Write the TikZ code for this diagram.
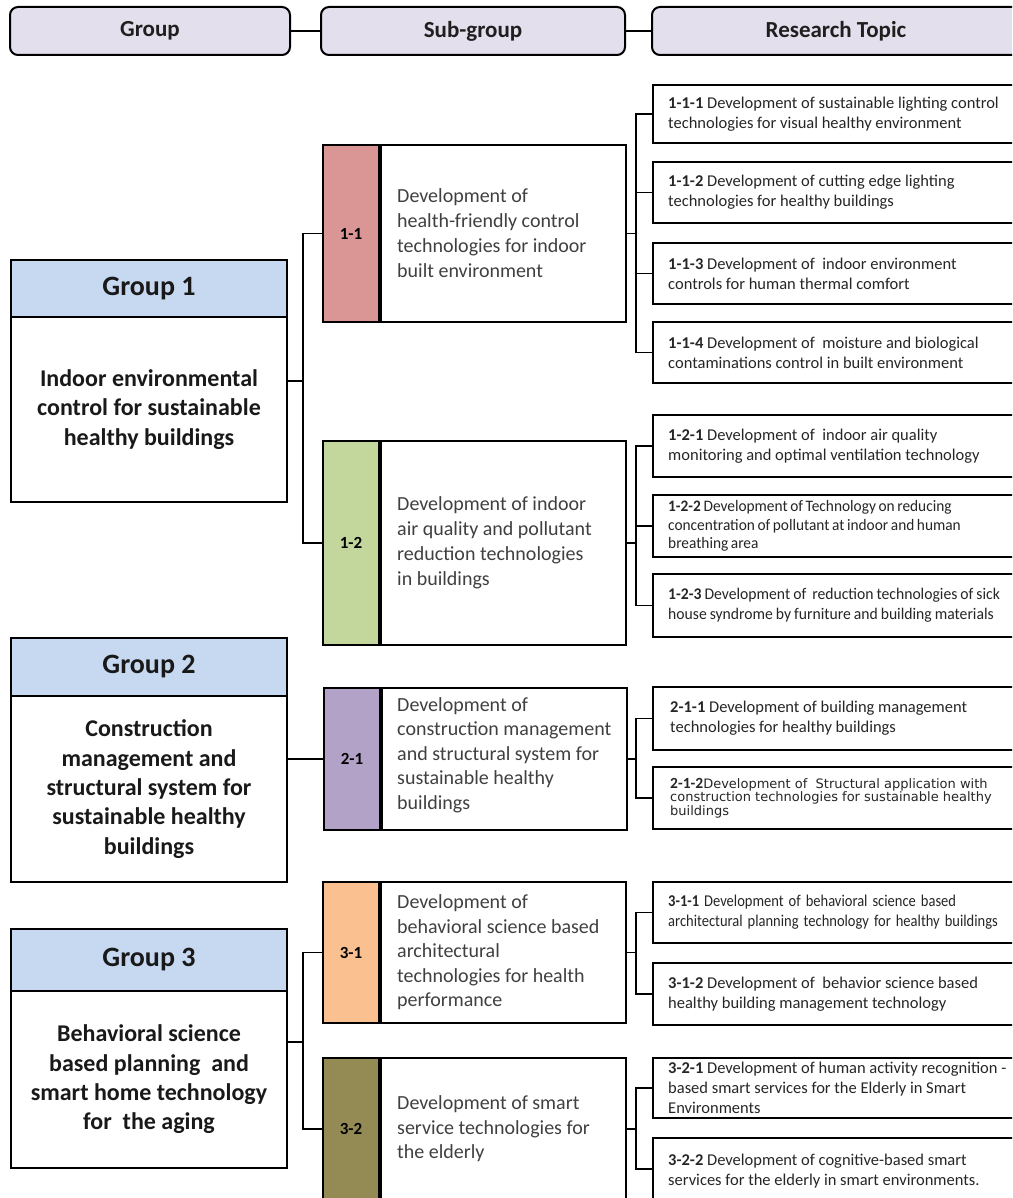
\documentclass[tikz,border=0pt]{standalone}
\usepackage{fontspec}
\setmainfont{Carlito}
\newfontfamily\condfont[FakeStretch=0.88]{Carlito}
\newfontfamily\tightfont[FakeStretch=0.96]{Carlito}
\newfontfamily\dvfont{DejaVu Sans}
\usetikzlibrary{calc}
\definecolor{hdrfill}{HTML}{E4DFEC}
\definecolor{gblue}{HTML}{C6D9F1}
\definecolor{cA}{HTML}{D99694}
\definecolor{cB}{HTML}{C3D69B}
\definecolor{cC}{HTML}{B3A2C7}
\definecolor{cD}{HTML}{FAC090}
\definecolor{cE}{HTML}{948A54}
\definecolor{subgray}{HTML}{404040}
\definecolor{topgray}{HTML}{262626}
\begin{document}
\begin{tikzpicture}[x=1pt,y=-1pt,
 hdr/.style={draw=black, line width=2pt, rounded corners=8pt, fill=hdrfill, minimum height=48pt, inner sep=0pt, font=\fontsize{23}{28}\selectfont\bfseries, text=black!88},
 ghead/.style={draw, line width=2.5pt, fill=gblue, minimum width=276pt, inner sep=0pt, font=\fontsize{28}{33}\selectfont\bfseries, text=black!90},
 gbody/.style={draw, line width=2.5pt, fill=white, minimum width=276pt, inner sep=0pt, align=center, font=\fontsize{24}{29.3}\selectfont\bfseries, text=black!90},
 tabbox/.style={draw, line width=2pt, minimum width=56pt, inner sep=0pt, font=\fontsize{17}{20}\selectfont\bfseries},
 sbox/.style={draw, line width=2pt, fill=white, minimum width=245pt, inner sep=0pt, anchor=west},
 stext/.style={anchor=west, inner sep=0pt, align=left, text=subgray, font=\fontsize{20}{25}\selectfont},
 tbox/.style={draw, line width=2pt, fill=white, minimum width=368pt, inner sep=0pt, anchor=west},
 ttext/.style={anchor=west, inner sep=0pt, align=left, text=topgray, font=\fontsize{16.5}{20}\selectfont},
 link/.style={line width=1.6pt}
]
\useasboundingbox (0,0) rectangle (1012,1198);
\clip (0,0) rectangle (1012,1198);
\fill[white] (0,0) rectangle (1012,1198);

% header row
\node[hdr, minimum width=280pt] (hG) at (150,31) {Group};
\node[hdr, minimum width=304pt] (hS) at (473,31) {Sub-group};
\node[hdr, minimum width=368pt] (hR) at (836,31) {Research Topic};
\draw[line width=2pt] (hG.east) -- (hS.west);
\draw[line width=2pt] (hS.east) -- (hR.west);

% groups
\node[ghead, minimum height=57pt] (g1h) at (149,288.5) {Group 1};
\node[gbody, minimum height=185pt] (g1b) at (149,409.5) {Indoor environmental\\control for sustainable\\healthy buildings};
\node[ghead, minimum height=58pt] (g2h) at (149,667) {Group 2};
\node[gbody, minimum height=186pt] (g2b) at (149,789) {Construction\\management and\\structural system for\\sustainable healthy\\buildings};
\node[ghead, minimum height=62pt] (g3h) at (149,960) {Group 3};
\node[gbody, minimum height=177pt] (g3b) at (149,1079.5) {Behavioral science\\based planning\ \ and\\smart home technology\\for\ \ the aging};

% sub-groups
\node[tabbox, fill=cA, minimum height=177pt] (t11) at (351,233.5) {1-1};
\node[sbox, minimum height=177pt] (s11) at (t11.east) {};
\node[stext] (x11) at ([xshift=17pt]s11.west) {Development of\\health-friendly control\\technologies for indoor\\built environment};

\node[tabbox, fill=cB, minimum height=204pt] (t12) at (351,543) {1-2};
\node[sbox, minimum height=204pt] (s12) at (t12.east) {};
\node[stext] (x12) at ([xshift=17pt]s12.west) {Development of indoor\\air quality and pollutant\\reduction technologies\\in buildings};

\node[tabbox, fill=cC, minimum height=142pt] (t21) at (352,759) {2-1};
\node[sbox, minimum height=142pt] (s21) at (t21.east) {};
\node[stext, font=\fontsize{20}{24.5}\selectfont] (x21) at ([xshift=16pt,yshift=4pt]s21.west) {Development of\\construction management\\and structural system for\\sustainable healthy\\buildings};

\node[tabbox, fill=cD, minimum height=141pt] (t31) at (351,952.5) {3-1};
\node[sbox, minimum height=141pt] (s31) at (t31.east) {};
\node[stext, font=\fontsize{20}{24.5}\selectfont] (x31) at ([xshift=17pt]s31.west) {Development of\\behavioral science based\\architectural\\technologies for health\\performance};

\node[tabbox, fill=cE, minimum height=142pt] (t32) at (351,1129) {3-2};
\node[sbox, minimum height=142pt] (s32) at (t32.east) {};
\node[stext, font=\fontsize{20}{24.5}\selectfont] (x32) at ([xshift=17pt]s32.west) {Development of smart\\service technologies for\\the elderly};

% research topics
\node[tbox, minimum height=58pt] (p111) at (652,114) {};
\node[ttext] (q111) at ([xshift=16pt]p111.west) {\textbf{1-1-1} Development of sustainable lighting control\\technologies for visual healthy environment};
\node[tbox, minimum height=61pt] (p112) at (652,192.5) {};
\node[ttext] (q112) at ([xshift=16pt]p112.west) {\textbf{1-1-2} Development of cutting edge lighting\\technologies for healthy buildings};
\node[tbox, minimum height=61pt] (p113) at (652,273.5) {};
\node[ttext] (q113) at ([xshift=16pt]p113.west) {\textbf{1-1-3} Development of\ \ indoor environment\\controls for human thermal comfort};
\node[tbox, minimum height=61pt] (p114) at (652,352.5) {};
\node[ttext] (q114) at ([xshift=16pt]p114.west) {\textbf{1-1-4} Development of\ \ moisture and biological\\contaminations control in built environment};

\node[tbox, minimum height=62pt] (p121) at (652,446) {};
\node[ttext] (q121) at ([xshift=16pt]p121.west) {\textbf{1-2-1} Development of\ \ indoor air quality\\monitoring and optimal ventilation technology};
\node[tbox, minimum height=62pt] (p122) at (652,526) {};
\node[ttext, font={\tightfont\fontsize{16}{18.5}\selectfont\spaceskip=2.6pt plus 0.5pt}] (q122) at ([xshift=16pt]p122.west) {\textbf{1-2-2} Development of Technology on reducing\\concentration of pollutant at indoor and human\\breathing area};
\node[tbox, minimum height=63pt] (p123) at (652,605.5) {};
\node[ttext, font={\tightfont\fontsize{16.3}{20}\selectfont\spaceskip=3pt plus 0.5pt}] (q123) at ([xshift=16pt]p123.west) {\textbf{1-2-3} Development of\ \ reduction technologies of sick\\house syndrome by furniture and building materials};

\node[tbox, minimum height=63pt] (p211) at (652,718.5) {};
\node[ttext] (q211) at ([xshift=18pt]p211.west) {\textbf{2-1-1} Development of building management\\technologies for healthy buildings};
\node[tbox, minimum height=62pt] (p212) at (652,798) {};
\node[ttext, font={\dvfont\fontsize{13}{12.5}\selectfont}] (q212) at ([xshift=18pt]p212.west) {{\rmfamily\bfseries\fontsize{15.5}{12.5}\selectfont 2-1-2}Development of\ \ Structural application with\\construction technologies for sustainable healthy\\buildings};

\node[tbox, minimum height=61pt] (p311) at (652,912.5) {};
\node[ttext, font={\condfont\fontsize{16.5}{20}\selectfont\spaceskip=5pt plus 1pt}] (q311) at ([xshift=16pt]p311.west) {\textbf{3-1-1} Development of behavioral science based\\architectural planning technology for healthy buildings};
\node[tbox, minimum height=62pt] (p312) at (652,994) {};
\node[ttext] (q312) at ([xshift=16pt]p312.west) {\textbf{3-1-2} Development of\ \ behavior science based\\healthy building management technology};

\node[tbox, minimum height=60pt] (p321) at (652,1088) {};
\node[ttext] (q321) at ([xshift=16pt]p321.west) {\textbf{3-2-1} Development of human activity recognition -\\based smart services for the Elderly in Smart\\Environments};
\node[tbox, minimum height=62pt] (p322) at (652,1169) {};
\node[ttext] (q322) at ([xshift=16pt,yshift=-2pt]p322.west) {\textbf{3-2-2} Development of cognitive-based smart\\services for the elderly in smart environments.};

% left connectors
\coordinate (j1) at (303,381);
\draw[link] (g1b.east |- j1) -- (j1);
\draw[link] (t11.west) -| (j1) |- (t12.west);
\draw[link] (g2b.east |- t21.west) -- (t21.west);
\coordinate (j3) at (303,1042);
\draw[link] (g3b.east |- j3) -- (j3);
\draw[link] (t31.west) -| (j3) |- (t32.west);

% right connectors
\coordinate (r11) at (636,233.5);
\draw[link] (s11.east) -- (r11);
\draw[link] (p111.west) -| (r11) |- (p114.west);
\draw[link] (p112.west) -- (p112.west -| r11);
\draw[link] (p113.west) -- (p113.west -| r11);

\coordinate (r12) at (636,543);
\draw[link] (s12.east) -- (r12);
\draw[link] (p121.west) -| (r12) |- (p123.west);
\draw[link] (p122.west) -- (p122.west -| r12);

\coordinate (r21) at (636,759);
\draw[link] (s21.east) -- (r21);
\draw[link] (p211.west) -| (r21) |- (p212.west);

\coordinate (r31) at (636,952.5);
\draw[link] (s31.east) -- (r31);
\draw[link] (p311.west) -| (r31) |- (p312.west);

\coordinate (r32) at (636,1129);
\draw[link] (s32.east) -- (r32);
\draw[link] (p321.west) -| (r32) |- (p322.west);
\end{tikzpicture}
\end{document}
